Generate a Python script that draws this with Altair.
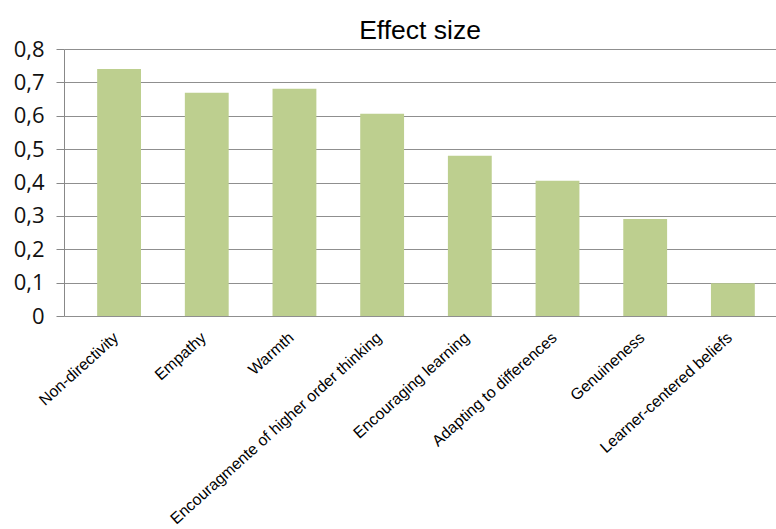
import altair as alt
import pandas as pd

categories = ["Non-directivity", "Empathy", "Warmth",
              "Encouragmente of higher order thinking", "Encouraging learning",
              "Adapting to differences", "Genuineness", "Learner-centered beliefs"]
values = [0.74, 0.669, 0.681, 0.606, 0.48, 0.405, 0.291, 0.098]

df = pd.DataFrame({"category": categories, "value": values})

chart = alt.Chart(df).mark_bar(color="#BDCF8F").encode(
    x=alt.X("category:N", sort=categories, title=None,
            scale=alt.Scale(paddingInner=0.5, paddingOuter=0.31, align=0.61),
            axis=alt.Axis(labelAngle=-42, labelAlign="right", labelBaseline="middle",
                          labelFont="Liberation Sans", labelFontSize=15.8, labelColor="#000",
                          labelPadding=19, labelOffset=-3, ticks=False, domain=False,
                          labelLimit=500)),
    y=alt.Y("value:Q", title=None,
            scale=alt.Scale(domain=[0, 0.8]),
            axis=alt.Axis(values=[0, 0.1, 0.2, 0.3, 0.4, 0.5, 0.6, 0.7, 0.8],
                          labelExpr="replace(format(datum.value, '.1~f'), '.', ',')",
                          labelFont="Open Sans", labelFontSize=22, labelColor="#111",
                          labelPadding=12, tickSize=8, tickColor="#888",
                          domainColor="#888", gridColor="#8f8f8f", gridWidth=1.2)),
).properties(
    width=712, height=267,
    title=alt.TitleParams("Effect size", font="Liberation Sans", fontSize=26.5,
                          fontWeight="normal", color="#000", anchor="middle", offset=-6),
    autosize=alt.AutoSizeParams(type="none"),
    padding={"left": 64, "top": 49, "right": 0, "bottom": 213},
).configure_view(stroke=None).configure_axisX(
    domain=True, domainColor="#888"
)

chart.save("out.html", embed_options={"renderer": "svg", "actions": False})
